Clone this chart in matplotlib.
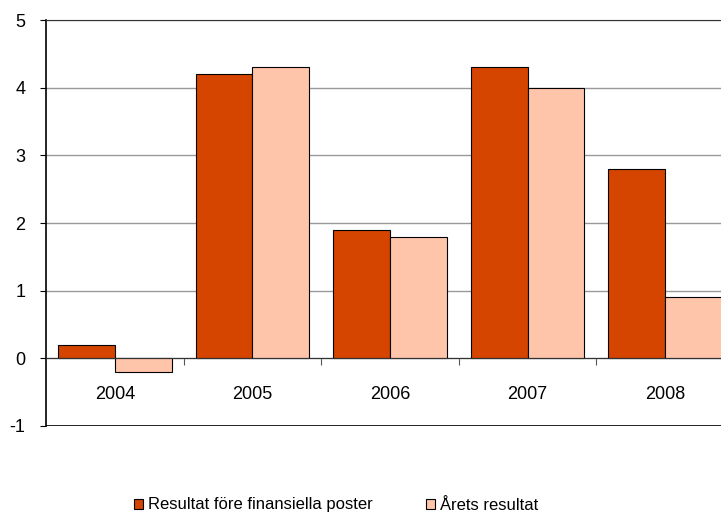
import numpy as np
import matplotlib
matplotlib.use("Agg")
import matplotlib.pyplot as plt
from matplotlib.patches import Patch

# data
years = ["2004", "2005", "2006", "2007", "2008"]
resultat_fore = [0.2, 4.2, 1.9, 4.3, 2.8]
arets_resultat = [-0.2, 4.3, 1.8, 4.0, 0.9]

red = "#D54500"
pink = "#FFC5AA"
font = ["Liberation Sans", "DejaVu Sans"]

fig = plt.figure(figsize=(7.21, 5.14), dpi=100)
W, H = 721, 514
ax = fig.add_axes([46 / W, (H - 426) / H, 688 / W, 406 / H])

x = np.arange(len(years))
bw = 0.413
ax.bar(x - bw / 2, resultat_fore, bw, color=red, edgecolor="black", linewidth=0.8, zorder=3)
ax.bar(x + bw / 2, arets_resultat, bw, color=pink, edgecolor="black", linewidth=0.8, zorder=3)

ax.set_xlim(-0.5, len(years) - 0.5)
ax.set_ylim(-1, 5)
ax.set_yticks(range(-1, 6))
ax.set_yticklabels([str(v) for v in range(-1, 6)], fontfamily=font, fontsize=13)
ax.yaxis.grid(True, color="#999999", linewidth=1, zorder=0)
ax.tick_params(axis="y", length=4, width=0.8, pad=11, color="black")

# x axis at zero with ticks between categories
ax.spines["bottom"].set_position(("data", 0))
ax.spines["bottom"].set_color("#333333")
ax.spines["bottom"].set_zorder(4)
ax.set_xticks(x[:-1] + 0.5)
ax.set_xticklabels([])
ax.tick_params(axis="x", length=5, width=0.8, color="#555555")
for xi, lab in zip(x, years):
    ax.text(xi, -0.53, lab, ha="center", va="center", fontfamily=font, fontsize=13)

ax.axhline(-1, color="black", linewidth=1.2, zorder=4)
ax.spines["top"].set_color("#333333")
ax.spines["right"].set_visible(False)
ax.spines["left"].set_linewidth(1.2)

handles = [Patch(facecolor=red, edgecolor="black", linewidth=0.8),
           Patch(facecolor=pink, edgecolor="black", linewidth=0.8)]
fig.legend(handles, ["Resultat före finansiella poster", "Årets resultat"],
           loc="center", bbox_to_anchor=(336 / W, (H - 505) / H), ncol=2,
           frameon=False, prop={"family": font, "size": 12},
           handlelength=0.55, handleheight=0.55, handletextpad=0.3,
           columnspacing=3.2, borderpad=0, borderaxespad=0)

fig.savefig("out.png", dpi=100)
